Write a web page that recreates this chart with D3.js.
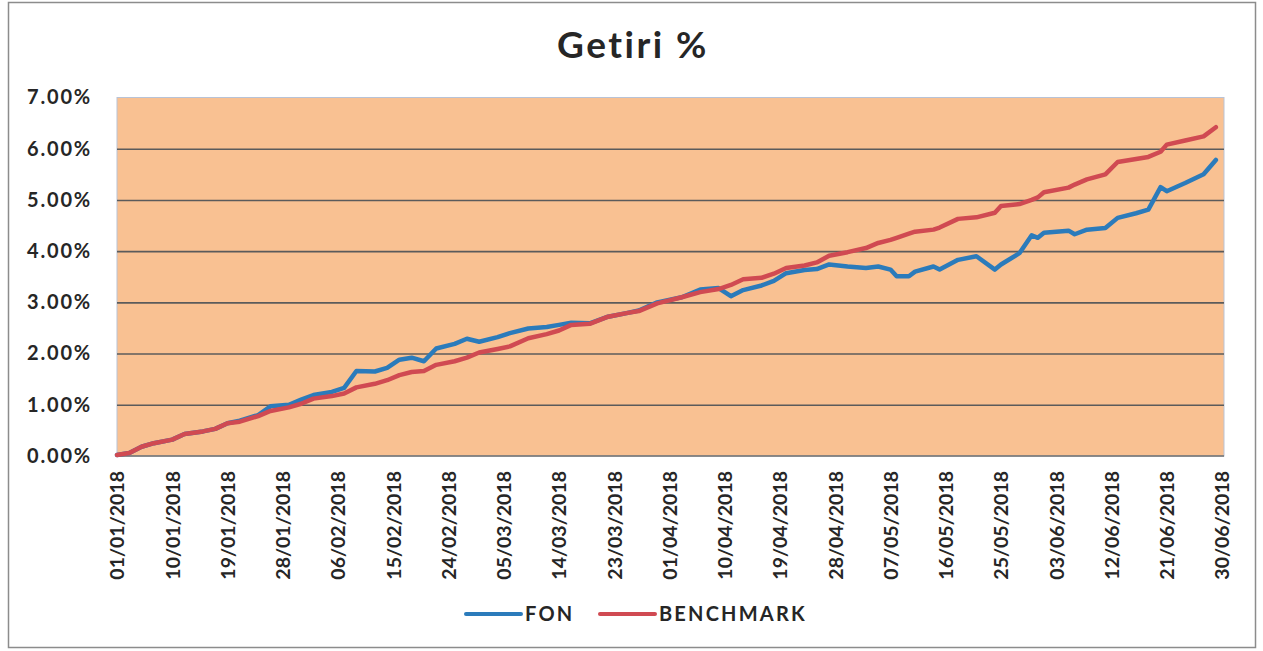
<!DOCTYPE html>
<html>
<head>
<meta charset="utf-8">
<script src="https://cdn.jsdelivr.net/npm/d3@7"></script>
<style>
  body { margin: 0; background: #fff; }
  text { font-family: Lato, "Noto Sans", sans-serif; fill: #262626; }
</style>
</head>
<body>
<svg width="1263" height="651"></svg>
<script>
// Dates of the readings (dd/mm/yyyy)
var dates = [
  '01/01/2018', '03/01/2018', '05/01/2018', '07/01/2018', '10/01/2018', '12/01/2018',
  '15/01/2018', '17/01/2018', '19/01/2018', '21/01/2018', '24/01/2018', '26/01/2018',
  '29/01/2018', '31/01/2018', '02/02/2018', '05/02/2018', '07/02/2018', '09/02/2018',
  '12/02/2018', '14/02/2018', '16/02/2018', '18/02/2018', '20/02/2018', '22/02/2018',
  '25/02/2018', '27/02/2018', '01/03/2018', '04/03/2018', '06/03/2018', '09/03/2018',
  '12/03/2018', '14/03/2018', '16/03/2018', '19/03/2018', '22/03/2018', '25/03/2018',
  '27/03/2018', '30/03/2018', '03/04/2018', '06/04/2018', '09/04/2018', '11/04/2018',
  '13/04/2018', '16/04/2018', '18/04/2018', '20/04/2018', '23/04/2018', '25/04/2018',
  '27/04/2018', '30/04/2018', '03/05/2018', '05/05/2018', '07/05/2018', '08/05/2018',
  '10/05/2018', '11/05/2018', '14/05/2018', '15/05/2018', '18/05/2018', '21/05/2018',
  '24/05/2018', '25/05/2018', '28/05/2018', '30/05/2018', '31/05/2018', '01/06/2018',
  '05/06/2018', '06/06/2018', '08/06/2018', '11/06/2018', '13/06/2018', '16/06/2018',
  '18/06/2018', '20/06/2018', '21/06/2018', '24/06/2018', '27/06/2018', '29/06/2018'
]

// Getiri % values
var fon = [
  0.02, 0.06, 0.18, 0.25, 0.32, 0.43, 0.48, 0.53, 0.64, 0.69, 0.80, 0.97,
  1.00, 1.10, 1.19, 1.25, 1.33, 1.66, 1.65, 1.72, 1.88, 1.92, 1.85, 2.10,
  2.19, 2.29, 2.23, 2.32, 2.40, 2.49, 2.52, 2.56, 2.60, 2.59, 2.72, 2.79,
  2.84, 3.00, 3.10, 3.25, 3.28, 3.12, 3.24, 3.33, 3.42, 3.57, 3.63, 3.65,
  3.74, 3.70, 3.67, 3.70, 3.64, 3.51, 3.51, 3.60, 3.70, 3.64, 3.83, 3.90,
  3.64, 3.74, 3.96, 4.31, 4.26, 4.36, 4.40, 4.33, 4.42, 4.45, 4.65, 4.74,
  4.81, 5.25, 5.17, 5.33, 5.50, 5.78
]
var benchmark = [
  0.02, 0.06, 0.18, 0.25, 0.32, 0.43, 0.48, 0.53, 0.64, 0.67, 0.78, 0.88,
  0.95, 1.02, 1.12, 1.17, 1.22, 1.34, 1.41, 1.48, 1.58, 1.64, 1.66, 1.78,
  1.85, 1.92, 2.02, 2.09, 2.14, 2.30, 2.38, 2.45, 2.56, 2.58, 2.72, 2.79,
  2.83, 2.98, 3.10, 3.20, 3.26, 3.34, 3.45, 3.48, 3.56, 3.67, 3.72, 3.78,
  3.91, 3.98, 4.06, 4.16, 4.22, 4.26, 4.34, 4.38, 4.42, 4.46, 4.63, 4.66,
  4.75, 4.88, 4.92, 5.00, 5.05, 5.15, 5.24, 5.30, 5.40, 5.50, 5.74, 5.80,
  5.84, 5.94, 6.08, 6.16, 6.24, 6.42
]

var tickLabels = [
  '01/01/2018', '10/01/2018', '19/01/2018', '28/01/2018', '06/02/2018', '15/02/2018',
  '24/02/2018', '05/03/2018', '14/03/2018', '23/03/2018', '01/04/2018', '10/04/2018',
  '19/04/2018', '28/04/2018', '07/05/2018', '16/05/2018', '25/05/2018', '03/06/2018',
  '12/06/2018', '21/06/2018', '30/06/2018'
]
var yTicks = [0, 1, 2, 3, 4, 5, 6, 7]

var seriesNames = ['FON', 'BENCHMARK']
var seriesColors = ['#2b7bbb', '#d04a52']

var parseDate = d3.timeParse('%d/%m/%Y')

var svg = d3.select('svg')

// chart frame
svg.append('rect')
  .attr('x', 8.5).attr('y', 2.5)
  .attr('width', 1247).attr('height', 645)
  .attr('fill', '#fff')
  .attr('stroke', '#8c8c8c')
  .attr('stroke-width', 1.5)

// title
svg.append('text')
  .attr('x', 633).attr('y', 58)
  .attr('text-anchor', 'middle')
  .style('font-size', '37px')
  .style('font-weight', 'bold')
  .style('letter-spacing', '2.5px')
  .text('Getiri %')

// Scales
var x = d3.scaleTime()
  .domain([parseDate(tickLabels[0]), parseDate(tickLabels[tickLabels.length - 1])])
  .range([117, 1222])
var y = d3.scaleLinear().domain([0, 7]).range([456, 97.5])

// plot area
svg.append('rect')
  .attr('x', 117).attr('y', y(7))
  .attr('width', 1224 - 117).attr('height', y(0) - y(7))
  .attr('fill', '#f9c192')
  .attr('stroke', '#b9c3d6')
  .attr('stroke-width', 1)

// gridlines
svg.append('g')
  .attr('transform', 'translate(117,0)')
  .call(d3.axisLeft(y).tickValues(yTicks.slice(1, 7)).tickSize(-(1224 - 117)).tickFormat(''))
  .call(g => g.select('.domain').remove())
  .selectAll('line')
  .attr('stroke', '#5b5b5b')
  .attr('stroke-width', 1.6)

// y axis labels
svg.append('g')
  .attr('transform', 'translate(92,0)')
  .call(d3.axisLeft(y).tickValues(yTicks).tickSize(0).tickPadding(0)
    .tickFormat(d => d3.format('.2f')(d) + '%'))
  .call(g => g.select('.domain').remove())
  .selectAll('text')
  .style('font-size', '20px')
  .style('font-weight', 'bold')
  .style('letter-spacing', '1.8px')
  .style('fill', '#262626')

// x axis
var xAxis = svg.append('g')
  .attr('transform', 'translate(0,' + y(0) + ')')
  .call(d3.axisBottom(x).tickValues(tickLabels.map(parseDate)).tickSize(0)
    .tickFormat(d3.timeFormat('%d/%m/%Y')))
xAxis.select('.domain')
  .attr('stroke', '#6e6e6e')
  .attr('stroke-width', 1.6)
  .attr('d', 'M117,0H1224')
xAxis.selectAll('text')
  .attr('transform', 'rotate(-90)')
  .attr('text-anchor', 'end')
  .attr('x', -15)
  .attr('y', 0)
  .attr('dy', '0.35em')
  .style('font-size', '19.5px')
  .style('font-weight', 'bold')
  .style('fill', '#262626')

// lines
var line = d3.line()
  .x((d, i) => x(parseDate(dates[i])))
  .y(d => y(d))

svg.selectAll('.series')
  .data([fon, benchmark])
  .enter()
  .append('path')
  .attr('class', 'series')
  .attr('d', line)
  .attr('fill', 'none')
  .attr('stroke', (d, i) => seriesColors[i])
  .attr('stroke-width', 4.5)
  .attr('stroke-linejoin', 'round')
  .attr('stroke-linecap', 'round')

// legend
var legendX = [466, 600]
var legend = svg.selectAll('.legend')
  .data(seriesNames)
  .enter()
  .append('g')
  .attr('class', 'legend')
  .attr('transform', (d, i) => 'translate(' + legendX[i] + ',614)')

legend.append('line')
  .attr('x1', 0).attr('x2', 55)
  .attr('stroke', (d, i) => seriesColors[i])
  .attr('stroke-width', 4)
  .attr('stroke-linecap', 'round')

legend.append('text')
  .attr('x', 59)
  .attr('dy', '0.36em')
  .style('font-size', '20px')
  .style('font-weight', 'bold')
  .style('letter-spacing', '2.2px')
  .text(d => d)
</script>
</body>
</html>
